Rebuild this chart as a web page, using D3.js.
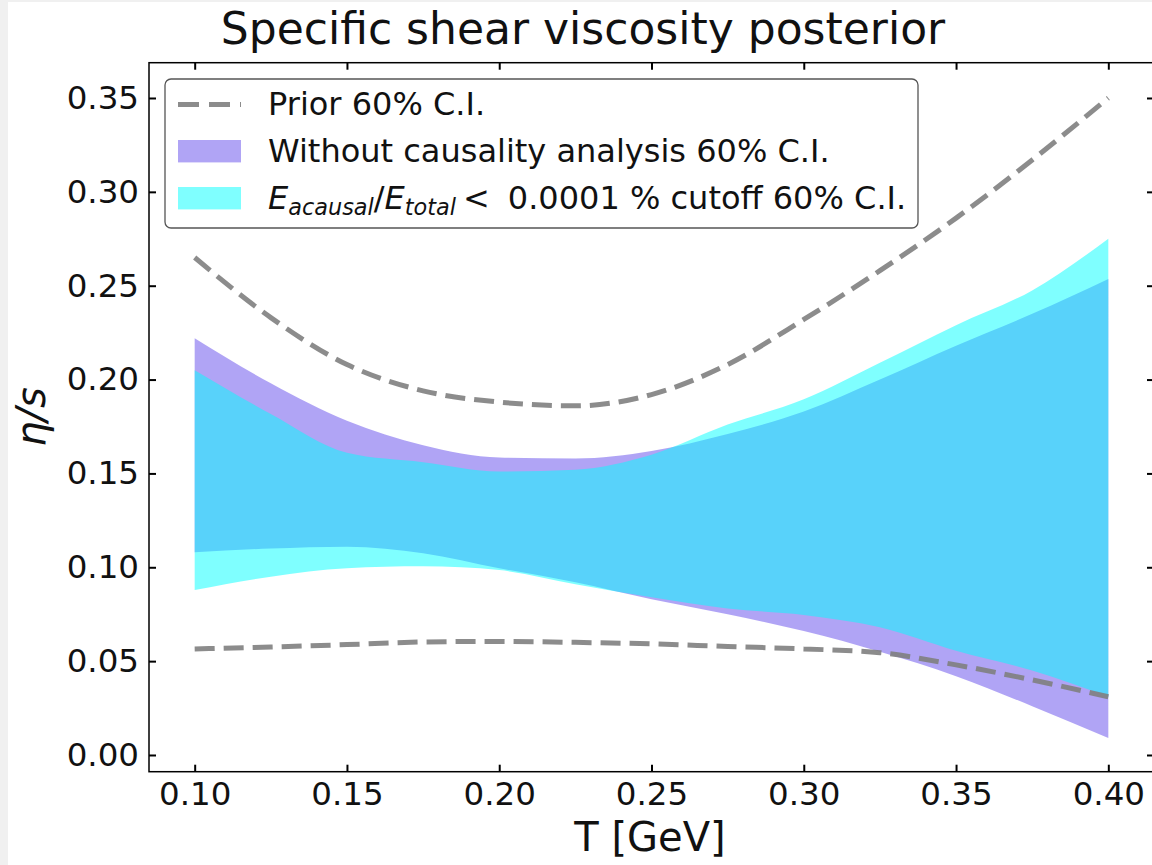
<!DOCTYPE html>
<html>
<head>
<meta charset="utf-8">
<script src="https://cdn.jsdelivr.net/npm/d3@7"></script>
<style>
  html, body { margin: 0; padding: 0; background: #f0f0f0; }
  svg { display: block; }
  text { font-family: "DejaVu Sans", sans-serif; fill: #111; }
</style>
</head>
<body>
<svg id="chart" width="1152" height="865"></svg>
<script>
// temperature grid (GeV)
const temps = [0.100, 0.125, 0.150, 0.175, 0.200, 0.225, 0.250, 0.275, 0.300, 0.325, 0.350, 0.375, 0.400];

// prior 60% C.I. (dashed)
const priorUpper = [0.265, 0.233, 0.208, 0.194, 0.188, 0.186, 0.192, 0.208, 0.232, 0.258, 0.286, 0.317, 0.350];
const priorLower = [0.0565, 0.0575, 0.0588, 0.0602, 0.0605, 0.0600, 0.0592, 0.0578, 0.0565, 0.0545, 0.0480, 0.0400, 0.0310];

// without causality analysis 60% C.I.
const noCausUpper = [0.222, 0.198, 0.178, 0.165, 0.1585, 0.158, 0.162, 0.171, 0.183, 0.200, 0.218, 0.235, 0.2536];
const noCausLower = [0.108, 0.110, 0.111, 0.1075, 0.0995, 0.092, 0.083, 0.075, 0.066, 0.055, 0.042, 0.026, 0.009];

// E_acausal/E_total < 0.0001 % cutoff 60% C.I.
const cutUpper = [0.205, 0.1817, 0.161, 0.156, 0.151, 0.152, 0.160, 0.176, 0.1895, 0.209, 0.229, 0.2475, 0.275];
const cutLower = [0.0879, 0.0950, 0.0995, 0.1005, 0.0985, 0.091, 0.084, 0.078, 0.0746, 0.068, 0.0555, 0.045, 0.031];

const xTicks = [0.10, 0.15, 0.20, 0.25, 0.30, 0.35, 0.40];
const yTicks = [0.00, 0.05, 0.10, 0.15, 0.20, 0.25, 0.30, 0.35];

const PURPLE = "rgba(123,104,238,0.6)";
const CYAN = "rgba(0,255,255,0.5)";
const PRIOR = "#808080";

const svg = d3.select("#chart");
const plot = { left: 149, right: 1154, top: 62.7, bottom: 771.7 };

svg.append("rect")
    .attr("x", 8).attr("y", 2)
    .attr("width", 1152).attr("height", 865)
    .attr("fill", "#fff");

const x = d3.scaleLinear().domain([0.085, 0.415]).range([plot.left, plot.right]);
const y = d3.scaleLinear().domain([-0.0089, 0.3688]).range([plot.bottom, plot.top]);

const rows = temps.map((t, i) => ({
    t: t,
    pu: priorUpper[i], pl: priorLower[i],
    nu: noCausUpper[i], nl: noCausLower[i],
    cu: cutUpper[i], cl: cutLower[i]
}));

function band(lo, hi) {
    return d3.area()
        .x(d => x(d.t))
        .y0(d => y(d[lo]))
        .y1(d => y(d[hi]))
        .curve(d3.curveMonotoneX);
}

function line(key) {
    return d3.line()
        .x(d => x(d.t))
        .y(d => y(d[key]))
        .curve(d3.curveMonotoneX);
}

svg.append("path").datum(rows).attr("d", band("nl", "nu")).attr("fill", PURPLE);
svg.append("path").datum(rows).attr("d", band("cl", "cu")).attr("fill", CYAN);

["pu", "pl"].forEach(k => {
    svg.append("path").datum(rows)
        .attr("d", line(k))
        .attr("fill", "none")
        .attr("stroke", PRIOR)
        .attr("stroke-opacity", 0.9)
        .attr("stroke-width", 5)
        .attr("stroke-dasharray", "20,9");
});

// axes, ticks pointing inward on all four sides
const fmt = d3.format(".2f");
const styleAxis = g => {
    g.select(".domain").remove();
    g.selectAll(".tick line").attr("stroke", "#000").attr("stroke-width", 2);
    g.selectAll(".tick text")
        .style("font-family", "DejaVu Sans")
        .style("font-size", "32.5px")
        .attr("fill", "#111");
};

svg.append("g")
    .attr("transform", `translate(0,${plot.bottom})`)
    .call(d3.axisBottom(x).tickValues(xTicks).tickFormat(fmt).tickSizeInner(-7).tickSizeOuter(0).tickPadding(10.5))
    .call(styleAxis);
svg.append("g")
    .attr("transform", `translate(0,${plot.top})`)
    .call(d3.axisTop(x).tickValues(xTicks).tickFormat("").tickSizeInner(-7).tickSizeOuter(0))
    .call(styleAxis);
svg.append("g")
    .attr("transform", `translate(${plot.left},0)`)
    .call(d3.axisLeft(y).tickValues(yTicks).tickFormat(fmt).tickSizeInner(-7).tickSizeOuter(0).tickPadding(10))
    .call(styleAxis);
svg.append("g")
    .attr("transform", `translate(${plot.right},0)`)
    .call(d3.axisRight(y).tickValues(yTicks).tickFormat("").tickSizeInner(-7).tickSizeOuter(0))
    .call(styleAxis);

svg.append("rect")
    .attr("x", plot.left).attr("y", plot.top)
    .attr("width", plot.right - plot.left).attr("height", plot.bottom - plot.top)
    .attr("fill", "none").attr("stroke", "#000").attr("stroke-width", 1.5);

// titles
svg.append("text")
    .attr("x", 583).attr("y", 44)
    .attr("text-anchor", "middle")
    .style("font-size", "44px")
    .text("Specific shear viscosity posterior");

svg.append("text")
    .attr("x", 650).attr("y", 851)
    .attr("text-anchor", "middle")
    .style("font-size", "40px")
    .text("T [GeV]");

svg.append("text")
    .attr("transform", "translate(45,417) rotate(-90)")
    .attr("text-anchor", "middle")
    .style("font-size", "40px")
    .style("font-style", "italic")
    .text("η/s");

// legend
const legend = svg.append("g");
legend.append("rect")
    .attr("x", 165).attr("y", 79)
    .attr("width", 753).attr("height", 149)
    .attr("rx", 6)
    .attr("fill", "rgba(255,255,255,0.85)")
    .attr("stroke", "#555")
    .attr("stroke-width", 1.3);

legend.append("line")
    .attr("x1", 178).attr("x2", 241)
    .attr("y1", 104.5).attr("y2", 104.5)
    .attr("stroke", PRIOR).attr("stroke-opacity", 0.9)
    .attr("stroke-width", 5).attr("stroke-dasharray", "21,10");
legend.append("rect")
    .attr("x", 178).attr("y", 140).attr("width", 63).attr("height", 22.4)
    .attr("fill", PURPLE);
legend.append("rect")
    .attr("x", 178).attr("y", 187).attr("width", 63).attr("height", 22.4)
    .attr("fill", CYAN);

legend.append("text").attr("x", 268).attr("y", 115).style("font-size", "32px").text("Prior 60% C.I.");
legend.append("text").attr("x", 268).attr("y", 162).style("font-size", "32px").text("Without causality analysis 60% C.I.");

const lab = legend.append("text").attr("x", 268).attr("y", 209).style("font-size", "32px");
lab.append("tspan").style("font-style", "italic").text("E");
lab.append("tspan").style("font-style", "italic").style("font-size", "22.4px").attr("dy", 6).text("acausal");
lab.append("tspan").attr("dy", -6).text("/");
lab.append("tspan").style("font-style", "italic").text("E");
lab.append("tspan").style("font-style", "italic").style("font-size", "22.4px").attr("dy", 6).text("total");
lab.append("tspan").attr("dy", -6).attr("dx", 7).text("<");
lab.append("tspan").attr("dx", 18).text("0.0001 % cutoff 60% C.I.");
</script>
</body>
</html>
